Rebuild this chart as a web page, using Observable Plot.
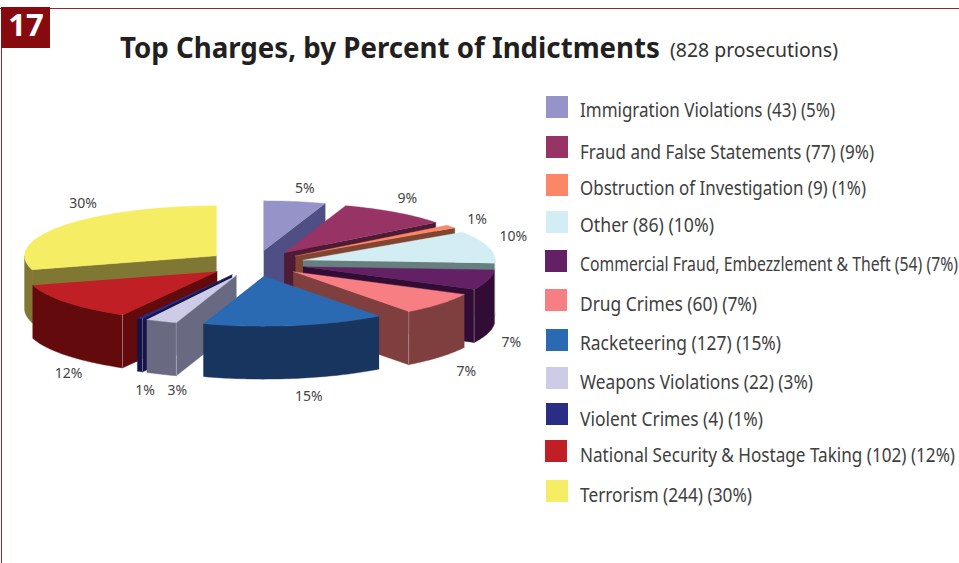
<!DOCTYPE html>
<html>
<head>
<meta charset="utf-8">
<script src="https://cdn.jsdelivr.net/npm/d3@7"></script>
<script src="https://cdn.jsdelivr.net/npm/@observablehq/plot@0.6"></script>
<style>
html,body{margin:0;padding:0;background:#fff;}
svg{display:block;}
</style>
</head>
<body>
<div id="chart"></div>
<script>
// ---- data ----
const categories = ["Immigration Violations","Fraud and False Statements","Obstruction of Investigation","Other","Commercial Fraud, Embezzlement & Theft","Drug Crimes","Racketeering","Weapons Violations","Violent Crimes","National Security & Hostage Taking","Terrorism"];
const counts = [43,77,9,86,54,60,127,22,4,102,244];
const percents = [5,9,1,10,7,7,15,3,1,12,30];
const topColors = ["#9593c7","#973365","#fb8766","#d2edf3","#632065","#f77f83","#2a6ab3","#cdcbe6","#2a2d84","#bf1f25","#f5ee65"];
const wallColors = ["#4f4f85","#4f1a35","#804530","#667f7f","#310c34","#7f3f3f","#183560","#696981","#14144a","#620a0c","#7f7733"];
const titleText = "Top Charges, by Percent of Indictments";
const subtitleText = "(828 prosecutions)";

// ---- layout ----
const W = 959, H = 563;
const cx = 255.2, cy = 263, rx = 192, ry = 50, explodeX = 49, explodeY = 12.8, depth = 53;
const paintOrder = [0,1,2,3,4,5,10,9,8,7,6];
const labelNudge = [[10,-13],[12,-14],[26,-7],[25,-11],[23,10],[26,15],[14,18],[16,16],[5,19],[2,18],[20,-22]];
const legendRows = [107,147,185,222,261,300,340,378,414,451,491];
const legendText = [110,152,188,225,264,304,343,382,419,455,495];
const legendSwatchX = [546,546,546,546,545,545,546,546,546,545,546];
const legendWidths = [255,294,286,134,378,177,201,233,183,375,172];

// ---- geometry of the exploded 3D pie, derived from counts ----
const total = d3.sum(counts);
const cum = d3.cumsum(counts);
const slices = counts.map((c,i)=>{
  const a0 = (i?cum[i-1]:0)/total*2*Math.PI, a1 = cum[i]/total*2*Math.PI, m=(a0+a1)/2;
  return {i,a0,a1,m,ax:cx+explodeX*Math.sin(m),ay:cy-explodeY*Math.cos(m)};
});
function arc(s,a0,a1,dz=0){
  const n=Math.max(2,Math.ceil((a1-a0)/0.02)), pts=[];
  for(let k=0;k<=n;k++){const a=a0+(a1-a0)*k/n;pts.push([s.ax+rx*Math.sin(a),s.ay-ry*Math.cos(a)+dz]);}
  return pts;
}
const faces=[]; const corners=[];
function face(id,color,pts){pts.forEach(p=>faces.push({id,color,x:p[0],y:p[1]}));}
for(const i of paintOrder){
  const s=slices[i], wc=wallColors[i];
  const cut = s.a1<Math.PI ? s.a1 : (s.a0>Math.PI ? s.a0 : null);
  if(cut!==null){
    const e=arc(s,cut,cut)[0];
    face(`c${i}`,wc,[[s.ax,s.ay],e,[e[0],e[1]+depth],[s.ax,s.ay+depth]]);
    if(Math.cos(cut)<0 && i!==10) corners.push({x:e[0],y1:e[1],y2:e[1]+depth});
  }
  const lo=Math.max(s.a0,Math.PI/2), hi=Math.min(s.a1,3*Math.PI/2);
  if(hi>lo){
    face(`o${i}`,wc,[...arc(s,lo,hi),...arc(s,lo,hi,depth).reverse()]);
  }
  face(`t${i}`,topColors[i],[[s.ax,s.ay],...arc(s,s.a0,s.a1)]);
}
const pctLabels = slices.map(s=>{
  const front=Math.cos(s.m)<0;
  return {t:percents[s.i]+"%",
    x:s.ax+rx*Math.sin(s.m)+labelNudge[s.i][0],
    y:s.ay-ry*Math.cos(s.m)+(front?depth:0)+labelNudge[s.i][1]};
});
const legend = categories.map((c,i)=>({
  label:`${c} (${counts[i]}) (${percents[i]}%)`,
  color:topColors[i], sy:legendRows[i], ty:legendText[i], sx:legendSwatchX[i], w:legendWidths[i]
}));

const font = "'Noto Sans','Open Sans',sans-serif";
const plot = Plot.plot({
  width:W,height:H,margin:0,
  x:{domain:[0,W],range:[0,W],axis:null},
  y:{domain:[0,H],range:[0,H],axis:null},
  color:{type:"identity"},
  style:{fontFamily:font,background:"#fff"},
  marks:[
    Plot.ruleY([8],{x1:0,x2:W,stroke:"#96282d",strokeWidth:1}),
    Plot.ruleX([1],{y1:8,y2:H,stroke:"#96282d",strokeWidth:1}),
    Plot.rect([{}],{x1:1,x2:50,y1:7,y2:48,fill:"#870a0f"}),
    Plot.text(["17"],{x:25.5,y:26,text:d=>d,fill:"#fff",fontSize:31,fontWeight:700}),
    Plot.text([titleText],{x:119.5,y:48.5,text:d=>d,textAnchor:"start",fontSize:28,fontWeight:700,fill:"#231f20"}),
    Plot.text([subtitleText],{x:669.5,y:50,text:d=>d,textAnchor:"start",fontSize:19,fill:"#333"}),
    Plot.line(faces,{x:"x",y:"y",z:"id",fill:"color",stroke:"color",strokeWidth:0.4,curve:"linear"}),
    Plot.ruleX(corners,{x:"x",y1:"y1",y2:"y2",stroke:"#fff",strokeOpacity:0.3,strokeWidth:1}),
    Plot.text(pctLabels,{x:"x",y:"y",text:"t",fontSize:14,fill:"#444"}),
    Plot.rect(legend,{x1:"sx",x2:d=>d.sx+22,y1:d=>d.sy-11,y2:d=>d.sy+11,fill:"color"}),
    Plot.text(legend,{x:579.5,y:"ty",text:"label",textAnchor:"start",fontSize:19,fill:"#404040"})
  ]
});
// Fit real text to the reference's widths (its typeface is narrower than any installed one).
const fit = new Map(legend.map(d=>[d.label,d.w]));
fit.set(titleText,540); fit.set(subtitleText,168);
plot.querySelectorAll("text").forEach(t=>{
  const w = fit.get(t.textContent);
  if(w){t.setAttribute("textLength",w);t.setAttribute("lengthAdjust","spacingAndGlyphs");}
});
document.getElementById("chart").appendChild(plot);
</script>
</body>
</html>
